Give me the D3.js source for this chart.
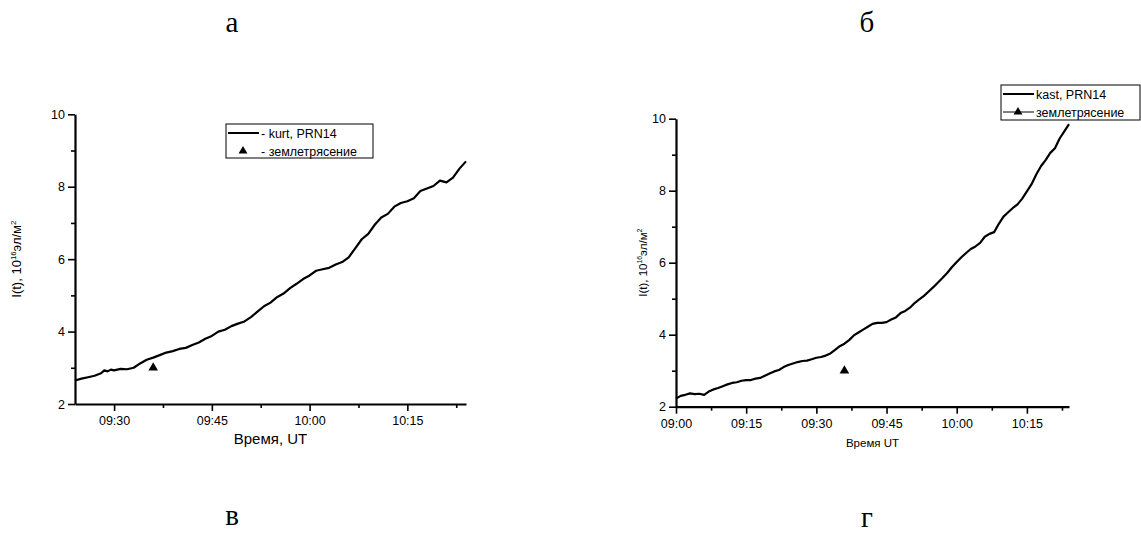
<!DOCTYPE html>
<html>
<head>
<meta charset="utf-8">
<script src="https://cdn.jsdelivr.net/npm/d3@7"></script>
<style>
  body { margin: 0; background: #fff; }
  svg { display: block; }
  text { font-family: "Liberation Sans", Arial, sans-serif; fill: #000; }
  .panel-letter { font-family: "Liberation Serif", "Times New Roman", serif; font-size: 29px; }
</style>
</head>
<body>
<svg id="chart" width="1141" height="538"></svg>
<script>
// ---- данные ----
const kurtTimes = ["09:24","09:25","09:26","09:27","09:28","09:28:30","09:29","09:29:30","09:30","09:31","09:32","09:33","09:34","09:35","09:36","09:37","09:38","09:39","09:40","09:41","09:42","09:43","09:44","09:45","09:46","09:47","09:48","09:49","09:50","09:51","09:52","09:53","09:54","09:55","09:56","09:57","09:58","09:59","10:00","10:01","10:02","10:03","10:04","10:05","10:06","10:07","10:08","10:09","10:10","10:11","10:12","10:13","10:14","10:15","10:16","10:17","10:18","10:19","10:20","10:21","10:22","10:23","10:24"];
const kurtValues = [2.65,2.70,2.74,2.78,2.85,2.93,2.90,2.95,2.93,2.97,2.96,3.00,3.12,3.22,3.28,3.35,3.42,3.46,3.52,3.55,3.63,3.70,3.80,3.88,4.00,4.05,4.15,4.22,4.28,4.40,4.55,4.70,4.80,4.95,5.05,5.20,5.32,5.45,5.55,5.68,5.72,5.76,5.85,5.92,6.05,6.30,6.55,6.70,6.95,7.15,7.25,7.45,7.55,7.60,7.68,7.88,7.95,8.02,8.17,8.12,8.25,8.50,8.70];

const kastTimes = ["09:00","09:01","09:02","09:03","09:04","09:05","09:06","09:07","09:08","09:09","09:10","09:11","09:12","09:13","09:14","09:15","09:16","09:17","09:18","09:19","09:20","09:21","09:22","09:23","09:24","09:25","09:26","09:27","09:28","09:29","09:30","09:31","09:32","09:33","09:34","09:35","09:36","09:37","09:38","09:39","09:40","09:41","09:42","09:43","09:44","09:45","09:46","09:47","09:48","09:49","09:50","09:51","09:52","09:53","09:54","09:55","09:56","09:57","09:58","09:59","10:00","10:01","10:02","10:03","10:04","10:05","10:06","10:07","10:08","10:09","10:10","10:11","10:12","10:13","10:14","10:15","10:16","10:17","10:18","10:19","10:20","10:21","10:22","10:23","10:24"];
const kastValues = [2.23,2.30,2.33,2.37,2.35,2.36,2.33,2.42,2.48,2.52,2.57,2.62,2.66,2.68,2.72,2.74,2.74,2.78,2.80,2.86,2.92,2.98,3.02,3.10,3.16,3.20,3.24,3.27,3.28,3.32,3.36,3.38,3.42,3.48,3.58,3.68,3.75,3.85,3.98,4.06,4.14,4.22,4.30,4.33,4.33,4.35,4.42,4.48,4.60,4.66,4.75,4.88,4.98,5.08,5.20,5.32,5.45,5.58,5.72,5.88,6.02,6.15,6.27,6.38,6.45,6.55,6.72,6.80,6.85,7.08,7.28,7.40,7.52,7.62,7.78,7.98,8.18,8.45,8.68,8.85,9.05,9.18,9.45,9.65,9.85];

const quakeTime = "09:36";
const quakeValue = 3.0;

const yTicks = [2, 4, 6, 8, 10];
const yMinor = [3, 5, 7, 9];
const leftXTicks = ["09:30", "09:45", "10:00", "10:15"];
const leftXMinor = ["09:37:30", "09:52:30", "10:07:30", "10:22:30"];
const rightXTicks = ["09:00", "09:15", "09:30", "09:45", "10:00", "10:15"];
const rightXMinor = ["09:07:30", "09:22:30", "09:37:30", "09:52:30", "10:07:30", "10:22:30"];

const panelLetters = ["а", "б", "в", "г"];

// ---- разбор времени ----
const parseHM = d3.timeParse("%H:%M");
const parseHMS = d3.timeParse("%H:%M:%S");
const parseT = s => (s.length > 5 ? parseHMS(s) : parseHM(s));
const fmt = d3.timeFormat("%H:%M");

const svg = d3.select("#chart");

// буквы панелей
const letterPos = [[232, 32], [867, 32], [232, 525], [867, 527]];
svg.selectAll("text.panel-letter")
  .data(panelLetters)
  .enter()
  .append("text")
  .attr("class", "panel-letter")
  .attr("text-anchor", "middle")
  .attr("x", (d, i) => letterPos[i][0])
  .attr("y", (d, i) => letterPos[i][1])
  .text(d => d);

function drawPanel(opt) {
  const x = d3.scaleTime()
    .domain([parseT(opt.xStart), parseT(opt.xEnd)])
    .range([opt.left, opt.right]);
  const y = d3.scaleLinear().domain([2, 10]).range([opt.bottom, opt.top]);

  const g = svg.append("g");

  // минорные деления
  g.append("g")
    .attr("transform", `translate(${opt.left},0)`)
    .call(d3.axisLeft(y).tickValues(yMinor).tickSize(4).tickFormat(""))
    .call(a => a.select(".domain").remove());
  g.append("g")
    .attr("transform", `translate(0,${opt.bottom})`)
    .call(d3.axisBottom(x).tickValues(opt.xMinor.map(parseT)).tickSize(4).tickFormat(""))
    .call(a => a.select(".domain").remove());

  // основные оси
  const yAxis = g.append("g")
    .attr("transform", `translate(${opt.left},0)`)
    .call(d3.axisLeft(y).tickValues(yTicks).tickSize(7).tickSizeOuter(0).tickPadding(3));
  const xAxis = g.append("g")
    .attr("transform", `translate(0,${opt.bottom})`)
    .call(d3.axisBottom(x).tickValues(opt.xTicks.map(parseT)).tickSize(7)
      .tickSizeOuter(0).tickPadding(5).tickFormat(fmt));

  g.selectAll(".domain").attr("stroke-width", 2.2);
  g.selectAll(".tick line").attr("stroke-width", 1.6);
  yAxis.selectAll("text").attr("font-size", opt.tickFont);
  xAxis.selectAll("text").attr("font-size", opt.tickFont);

  // кривая
  const pts = opt.times.map((t, i) => [parseT(t), opt.values[i]]);
  g.append("path")
    .datum(pts)
    .attr("fill", "none")
    .attr("stroke", "#000")
    .attr("stroke-width", 2.2)
    .attr("stroke-linejoin", "round")
    .attr("d", d3.line().x(d => x(d[0])).y(d => y(d[1])));

  // землетрясение
  g.append("path")
    .attr("d", d3.symbol().type(d3.symbolTriangle).size(40))
    .attr("transform", `translate(${x(parseT(quakeTime))},${y(quakeValue)})`)
    .attr("fill", "#000");

  // подписи осей
  g.append("text")
    .attr("x", (opt.left + opt.right) / 2)
    .attr("y", opt.bottom + opt.xTitleDy)
    .attr("text-anchor", "middle")
    .attr("font-size", opt.xTitleFont)
    .text(opt.xTitle);

  const yl = g.append("text")
    .attr("transform", `translate(${opt.yLabelX},${(opt.top + opt.bottom) / 2}) rotate(-90)`)
    .attr("text-anchor", "middle")
    .attr("font-size", opt.yLabelFont);
  yl.append("tspan").text("I(t), 10");
  yl.append("tspan").attr("dy", -5).attr("font-size", opt.yLabelFont * 0.6).text("16");
  yl.append("tspan").attr("dy", 5).text("эл/м");
  yl.append("tspan").attr("dy", -5).attr("font-size", opt.yLabelFont * 0.6).text("2");

  // легенда
  const lg = g.append("g").attr("transform", `translate(${opt.legend.x},${opt.legend.y})`);
  lg.append("rect")
    .attr("width", opt.legend.w).attr("height", opt.legend.h)
    .attr("fill", "#fff").attr("stroke", "#000").attr("stroke-width", 1);
  lg.append("line")
    .attr("x1", 2).attr("x2", 33).attr("y1", 9).attr("y2", 9)
    .attr("stroke", "#000").attr("stroke-width", 2);
  if (opt.legend.quakeLine) {
    lg.append("line")
      .attr("x1", 2).attr("x2", 33).attr("y1", 27).attr("y2", 27)
      .attr("stroke", "#000").attr("stroke-width", 1);
  }
  lg.append("path")
    .attr("d", d3.symbol().type(d3.symbolTriangle).size(34))
    .attr("transform", `translate(${opt.legend.triX},27)`)
    .attr("fill", "#000");
  lg.selectAll("text.lgt")
    .data(opt.legend.labels)
    .enter()
    .append("text")
    .attr("class", "lgt")
    .attr("x", 35)
    .attr("y", (d, i) => 13.5 + i * 18)
    .attr("font-size", 12.5)
    .text(d => d);
}

drawPanel({
  xStart: "09:24", xEnd: "10:24",
  left: 75, right: 466, top: 114.3, bottom: 404,
  xTicks: leftXTicks, xMinor: leftXMinor,
  times: kurtTimes, values: kurtValues,
  tickFont: 12.5, xTitle: "Время, UT", xTitleFont: 15, xTitleDy: 40,
  yLabelX: 21, yLabelFont: 13,
  legend: { x: 226, y: 124, w: 147, h: 34, triX: 17, quakeLine: false,
            labels: ["- kurt, PRN14", "- землетрясение"] }
});

drawPanel({
  xStart: "09:00", xEnd: "10:24",
  left: 676, right: 1069, top: 118.7, bottom: 406.7,
  xTicks: rightXTicks, xMinor: rightXMinor,
  times: kastTimes, values: kastValues,
  tickFont: 12.5, xTitle: "Время UT", xTitleFont: 11.5, xTitleDy: 40,
  yLabelX: 647, yLabelFont: 11.5,
  legend: { x: 1001, y: 85, w: 139, h: 35, triX: 17, quakeLine: true,
            labels: ["kast, PRN14", "землетрясение"] }
});
</script>
</body>
</html>
